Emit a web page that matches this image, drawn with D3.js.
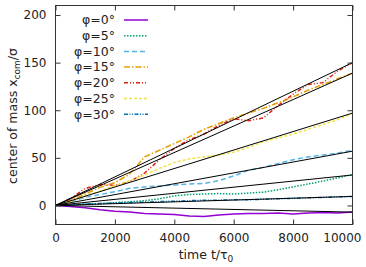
<!DOCTYPE html>
<html><head><meta charset="utf-8">
<script src="https://cdn.jsdelivr.net/npm/d3@7"></script>
<style>body{margin:0;background:#fff}svg{display:block}text{font-family:"DejaVu Sans",sans-serif;fill:#222}</style>
</head><body><svg id="c" width="366" height="267"></svg>
<script>
const times = [0,500,1000,1500,2000,2500,3000,3500,4000,4500,5000,5500,6000,6500,7000,7500,8000,8500,9000,9500,10000];
const phi0  = [0,-1,-2.5,-4.5,-6,-7,-8.5,-9,-9.5,-11,-11.5,-10,-9,-8.5,-8.5,-8,-9,-8,-7.5,-8,-7];
const phi5  = [0,0.5,1.5,2,3,4,5,7,10,11.5,12,12.5,12,13,14,16.5,19.5,22.5,25.5,29,32.5];
const phi10 = [0,4,8.5,11.5,14.5,18,19.5,20.5,21.5,22.5,23,26,31,37,40,44,48,51,53,55,58];
const phi15 = [0,5,12,19,24,33,51,58,65,72,80,86,92,97,102,108,114,121,127,133,139];
const phi20 = [0,7,18,22,21,25,34,48,60,69,75,84,91,89,92,105,117,127,129,141,150];
const phi25 = [0,4,10,15,21,26,32,39,45,49,51,53,56,61,67,71,75,80,85,90,97];
const phi30 = [0,0.5,1.5,2,2.5,3,3.5,4,4.5,5,5.5,5.5,6,6,6.5,7,7.5,8,8.5,9,9.5];
const seriesNames = ["φ=0°","φ=5°","φ=10°","φ=15°","φ=20°","φ=25°","φ=30°"];
const fitAtEnd = [-7,32,57,139,150,97,9.5];
const xTicks = [0,2000,4000,6000,8000,10000];
const yTicks = [0,50,100,150,200];

const seriesData = [phi0,phi5,phi10,phi15,phi20,phi25,phi30];
const colors = ["#9400d3","#009e73","#56b4e9","#e69f00","#e51e10","#f0e442","#0072b2"];
const dashes = [null,"1.5,1.5","5,3","6,2,1.5,2","4,2,1,2,1,2","3,2","4,1.5,1,1.5,1,1.5"];

const svg = d3.select("#c");
const L=55.5,R=352.5,T=5.5,B=224.5;
const x = d3.scaleLinear().domain([0,10000]).range([L,R]);
const y = d3.scaleLinear().domain([-20,210]).range([B,T]);

svg.append("defs").append("clipPath").attr("id","clip").append("rect")
  .attr("x",L).attr("y",T).attr("width",R-L).attr("height",B-T);

const line = d3.line().x((d,i)=>x(times[i])).y(d=>y(d));
const g = svg.append("g").attr("clip-path","url(#clip)");
seriesData.forEach((s,k)=>{
  g.append("path").attr("d",line(s)).attr("fill","none")
   .attr("stroke",colors[k]).attr("stroke-width",1.5)
   .attr("stroke-dasharray",dashes[k]);
});
fitAtEnd.forEach(v=>{
  g.append("line").attr("x1",x(0)).attr("y1",y(0)).attr("x2",x(10000)).attr("y2",y(v))
   .attr("stroke","#000").attr("stroke-width",1);
});

const ax = (gen,tr)=>{const a=svg.append("g").attr("transform",tr).call(gen);
  a.select(".domain").remove(); a.selectAll("line").attr("stroke","#333"); return a;};
const bx = ax(d3.axisBottom(x).tickValues(xTicks).tickSize(-5).tickPadding(9).tickFormat(d3.format("d")),`translate(0,${B})`);
bx.selectAll("text").attr("font-size","12px");
bx.selectAll("text").filter(d=>d===10000).attr("text-anchor","end").attr("x",8.5);
ax(d3.axisTop(x).tickValues(xTicks).tickSize(-5).tickFormat(""),`translate(0,${T})`);
const ly = ax(d3.axisLeft(y).tickValues(yTicks).tickSize(-5).tickPadding(9),`translate(${L},0)`);
ly.selectAll("text").attr("font-size","12px");
ax(d3.axisRight(y).tickValues(yTicks).tickSize(-5).tickFormat(""),`translate(${R},0)`);
svg.selectAll(".tick text").attr("font-family","DejaVu Sans").attr("fill","#222");

svg.append("rect").attr("x",L).attr("y",T).attr("width",R-L).attr("height",B-T)
  .attr("fill","none").attr("stroke","#333").attr("stroke-width",1);

seriesNames.forEach((n,k)=>{
  const yy = 20 + k*15.7;
  svg.append("text").attr("x",115).attr("y",yy).attr("dy","0.35em").attr("text-anchor","end")
    .attr("font-size","12.5px").attr("fill","#222").text(n);
  svg.append("line").attr("x1",124).attr("x2",148).attr("y1",yy).attr("y2",yy)
    .attr("stroke",colors[k]).attr("stroke-width",1.5).attr("stroke-dasharray",dashes[k]);
});

const xl = svg.append("text").attr("x",206).attr("y",259).attr("text-anchor","middle").attr("font-size","12.5px");
xl.append("tspan").text("time t/τ");
xl.append("tspan").attr("font-size","9px").attr("dy","3").text("0");
const yl = svg.append("text").attr("transform","translate(17,116) rotate(-90)").attr("text-anchor","middle").attr("font-size","12.5px");
yl.append("tspan").text("center of mass x");
yl.append("tspan").attr("font-size","9px").attr("dy","3").text("com");
yl.append("tspan").attr("dy","-3").text("/σ");
</script></body></html>
